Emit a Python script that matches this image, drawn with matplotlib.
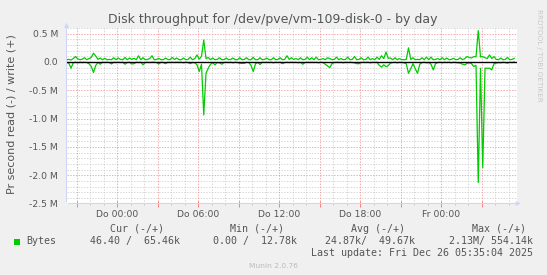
import matplotlib
matplotlib.use('Agg')
import matplotlib.pyplot as plt
from matplotlib.patches import Rectangle
import numpy as np

# DATA (10 minute samples, kB/s) - start Wed 20:15, hours relative to Do 00:00
start_hour = -3.75
end_hour = 29.583
write_k = [40, 45, 35, 60, 95, 55, 40, 50, 75, 40,
           60, 80, 155, 105, 45, 70, 40, 65, 40, 45,
           40, 75, 40, 70, 45, 40, 80, 40, 70, 45,
           65, 40, 110, 40, 75, 40, 45, 60, 110, 40,
           45, 65, 40, 40, 70, 45, 40, 80, 45, 70,
           40, 40, 70, 40, 45, 85, 40, 60, 125, 50,
           100, 389, 60, 80, 40, 70, 40, 45, 75, 40,
           40, 70, 40, 45, 70, 40, 40, 75, 40, 45,
           75, 40, 40, 80, 40, 40, 75, 40, 45, 70,
           40, 40, 75, 40, 45, 75, 40, 45, 110, 45,
           75, 45, 60, 40, 75, 40, 45, 85, 40, 75,
           40, 85, 40, 45, 60, 40, 75, 60, 40, 45,
           85, 40, 60, 40, 45, 85, 40, 45, 95, 40,
           45, 75, 40, 45, 85, 40, 60, 40, 85, 45,
           110, 60, 175, 65, 70, 40, 75, 40, 60, 40,
           40, 45, 250, 45, 75, 40, 45, 40, 75, 40,
           85, 40, 85, 40, 45, 60, 40, 75, 40, 70,
           40, 45, 65, 40, 45, 75, 40, 60, 95, 80,
           70, 95, 90, 554, 90, 95, 75, 60, 125, 60,
           95, 45, 40, 70, 40, 45, 80, 40, 45, 65]
read_k = [5, 20, 110, 15, 5, 15, 5, 10, 5, 10,
          30, 80, 185, 60, 10, 40, 5, 10, 5, 10,
          35, 5, 10, 5, 10, 5, 40, 10, 5, 35,
          30, 5, 10, 5, 50, 10, 5, 10, 5, 5,
          10, 35, 5, 10, 30, 5, 10, 5, 10, 5,
          10, 5, 15, 5, 10, 30, 10, 15, 50, 170,
          40, 935, 200, 110, 40, 15, 50, 10, 15, 40,
          10, 5, 10, 5, 15, 5, 10, 25, 25, 25,
          5, 10, 60, 170, 30, 10, 45, 5, 10, 5,
          10, 5, 15, 5, 10, 5, 30, 10, 5, 10,
          5, 10, 5, 15, 5, 40, 10, 5, 10, 5,
          10, 5, 15, 5, 10, 40, 70, 100, 30, 10,
          5, 10, 5, 15, 5, 10, 5, 10, 15, 30,
          30, 10, 5, 10, 5, 15, 5, 10, 5, 60,
          90, 50, 85, 65, 20, 10, 5, 15, 5, 10,
          15, 30, 200, 120, 30, 120, 200, 40, 10, 5,
          15, 10, 40, 140, 30, 10, 5, 15, 5, 10,
          5, 15, 5, 10, 15, 20, 40, 50, 25, 15,
          30, 80, 60, 2130, 110, 1870, 110, 110, 110, 140,
          30, 20, 10, 15, 5, 10, 20, 5, 10, 0]

tick_hours = [0, 6, 12, 18, 24]
tick_labels = ['Do 00:00', 'Do 06:00', 'Do 12:00', 'Do 18:00', 'Fr 00:00']
ytick_vals = [-2.5, -2.0, -1.5, -1.0, -0.5, 0.0, 0.5]
ytick_labels = ['-2.5 M', '-2.0 M', '-1.5 M', '-1.0 M', '-0.5 M', '0.0', '0.5 M']

legend_cols = ['Cur (-/+)', 'Min (-/+)', 'Avg (-/+)', 'Max (-/+)']
legend_vals = ['46.40 /  65.46k', '0.00 /  12.78k', '24.87k/  49.67k', '2.13M/ 554.14k']

title = 'Disk throughput for /dev/pve/vm-109-disk-0 - by day'
ylabel = 'Pr second read (-) / write (+)'
last_update = 'Last update: Fri Dec 26 05:35:04 2025'

# colours (munin defaults)
BACK = '#F0F0F0'
FONT = '#555555'
AXIS = '#CFD6F8'
GRID = '#C8C8C8'
MGRID = '#F08888'
GREEN = '#00CC00'

W, H = 547, 275
def fx(px): return px / W
def fy(py): return 1 - py / H

t = start_hour + np.arange(len(write_k)) / 6.0
write = np.array(write_k) / 1000.0
read = -np.array(read_k) / 1000.0

fig = plt.figure(figsize=(W / 100, H / 100), dpi=100, facecolor=BACK)
ax = fig.add_axes([fx(66.5), fy(203.5), 450 / W, 175.5 / H])
ax.set_facecolor('white')
ax.set_xlim(start_hour, end_hour)
ax.set_ylim(-2.5, 0.6)

# dotted grid like rrdtool
dot = (0, (2, 2))
gkw = dict(lw=0.5, ls=dot)
for h in np.arange(-3, 30, 1):
    if h % 3 != 0:
        ax.axvline(h, color=GRID, zorder=0, **gkw)
for v in np.arange(-2.4, 0.61, 0.1):
    if abs(v * 2 - round(v * 2)) > 1e-6:
        ax.axhline(v, color=GRID, zorder=0, **gkw)
for h in np.arange(-3, 30, 3):
    ax.axvline(h, color=MGRID, zorder=1, **gkw)
for v in ytick_vals[1:]:
    ax.axhline(v, color=MGRID, zorder=1, **gkw)
ax.axvline(end_hour, color=MGRID, zorder=1, **gkw)

ax.plot(t, read, color=GREEN, lw=0.9, zorder=3)
ax.plot(t, write, color=GREEN, lw=0.9, zorder=3)
ax.axhline(0, color='black', lw=1.0, zorder=4)

# ticks
ax.set_xticks(np.arange(-3, 30, 3))
ax.set_xticklabels([tick_labels[tick_hours.index(h)] if h in tick_hours else '' for h in range(-3, 30, 3)])
ax.set_xticks(np.arange(-3, 30, 1), minor=True)
ax.tick_params(axis='x', which='major', direction='inout', length=4, width=0.7,
               color='#F08080', labelsize=6.7, labelcolor=FONT, pad=3)
ax.tick_params(axis='x', which='minor', direction='inout', length=2, width=0.7, color='#C8C8C8')
ax.set_yticks(ytick_vals)
ax.set_yticklabels(ytick_labels)
ax.tick_params(axis='y', which='major', length=0, labelsize=6.7, labelcolor=FONT, pad=6)

for s in ['top', 'right', 'left', 'bottom']:
    ax.spines[s].set_visible(False)

# axes with arrows
ax.annotate('', xy=(1 + 7 / 450, 0), xytext=(-1 / 450, 0), xycoords='axes fraction',
            arrowprops=dict(arrowstyle='-|>', color=AXIS, lw=0.8, mutation_scale=6), annotation_clip=False)
ax.annotate('', xy=(0, 1 + 8 / 175.5), xytext=(0, -1 / 175.5), xycoords='axes fraction',
            arrowprops=dict(arrowstyle='-|>', color=AXIS, lw=0.8, mutation_scale=6), annotation_clip=False)

# texts
fig.text(fx(273), fy(19), title, ha='center', va='center', fontsize=9.0, color=FONT)
fig.text(fx(12), fy(114), ylabel, ha='center', va='center', rotation=90, fontsize=8.0, color=FONT)
fig.text(fx(539), fy(55), 'RRDTOOL / TOBI OETIKER', ha='center', va='center', rotation=270,
         fontsize=5.2, color='#C8C8C8')

mono = 'DejaVu Sans Mono'
hdr_right = [164, 284, 405, 526]
val_right = [180, 297, 415, 533]
for s, x in zip(legend_cols, hdr_right):
    fig.text(fx(x), fy(228.5), s, ha='right', va='center', family=mono, fontsize=7.2, color=FONT)
fig.patches.append(Rectangle((fx(14), fy(245)), 6 / W, 6 / H, transform=fig.transFigure,
                             facecolor=GREEN, edgecolor='none'))
fig.text(fx(26), fy(241), 'Bytes', ha='left', va='center', family=mono, fontsize=7.2, color=FONT)
for s, x in zip(legend_vals, val_right):
    fig.text(fx(x), fy(241), s, ha='right', va='center', family=mono, fontsize=7.2, color=FONT)
fig.text(fx(533), fy(253), last_update, ha='right', va='center', family=mono, fontsize=7.2, color=FONT)
fig.text(fx(273.5), fy(266), 'Munin 2.0.76', ha='center', va='center', fontsize=5.4, color='#BBBBBB')

fig.savefig('out.png', dpi=100, facecolor=BACK)
